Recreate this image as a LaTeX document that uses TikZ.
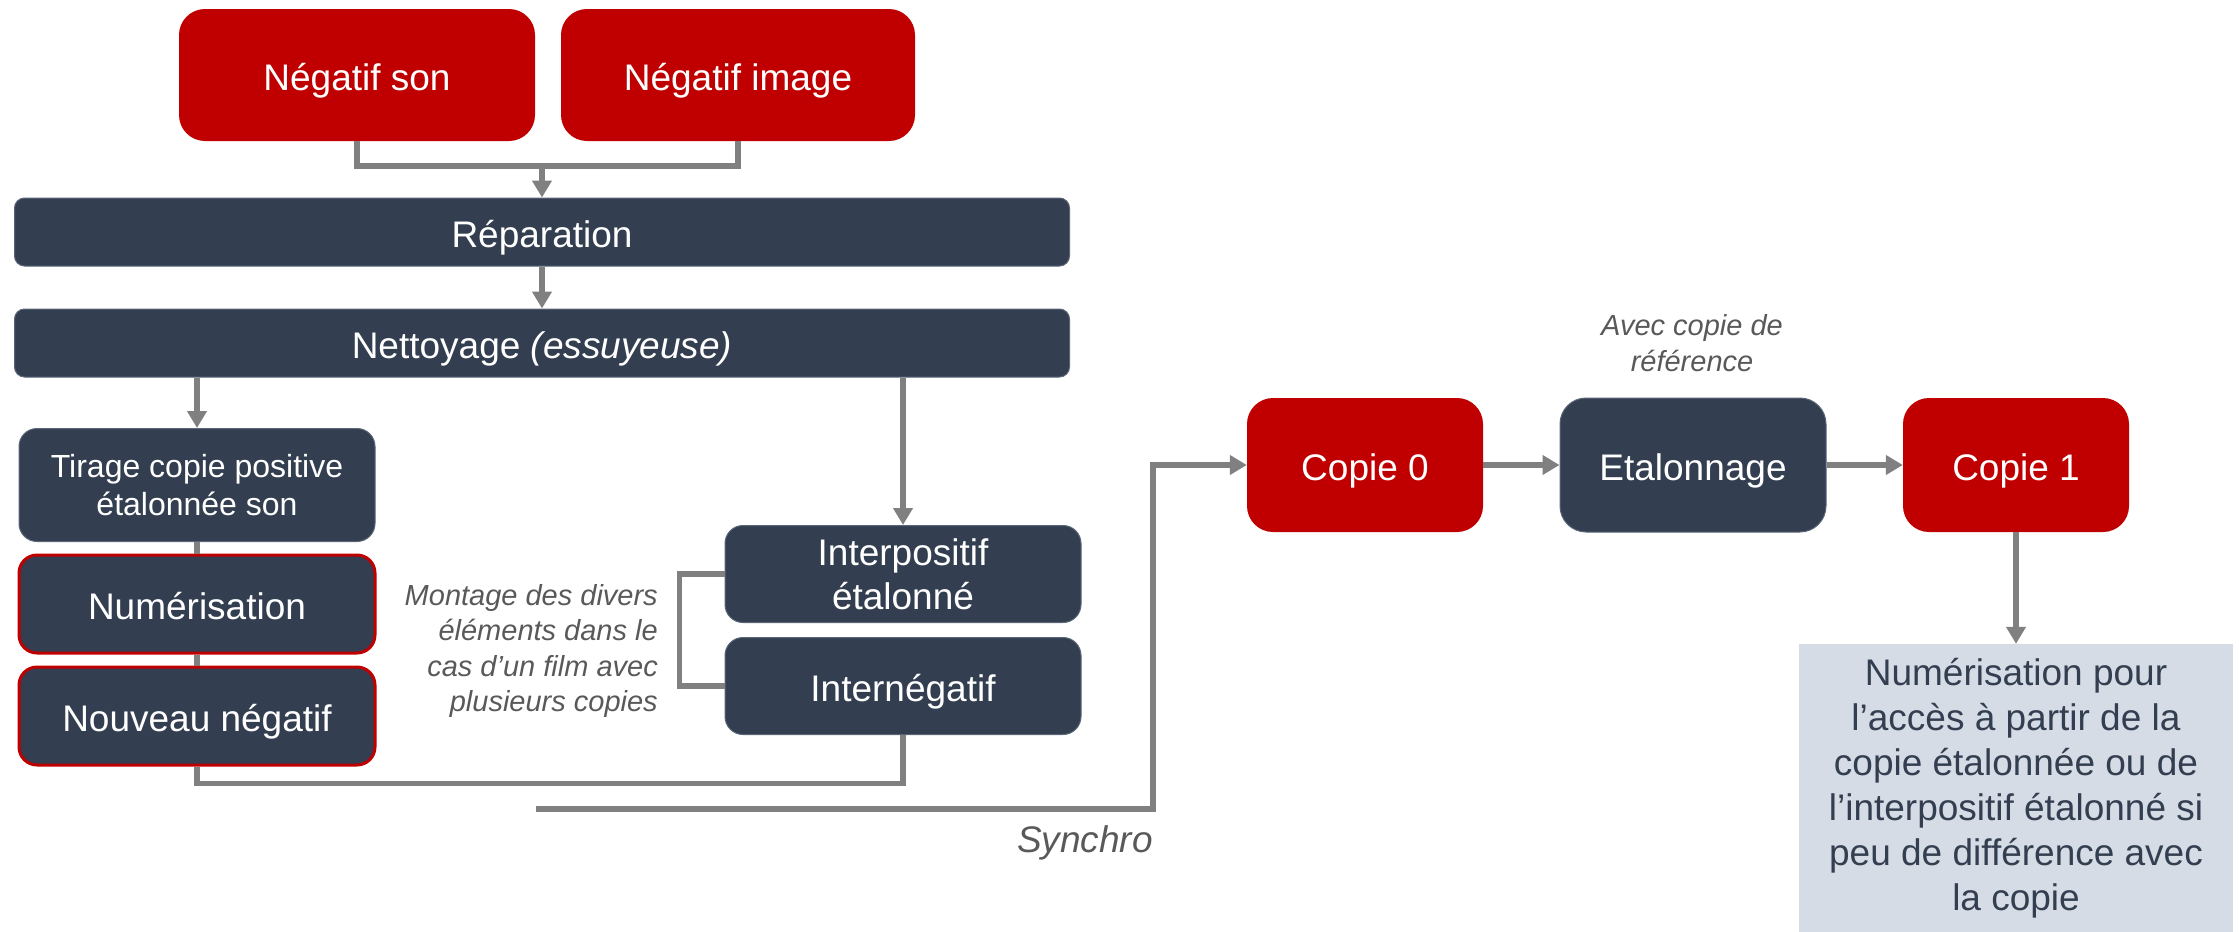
\documentclass[tikz,border=0pt]{standalone}
\usepackage{fontspec}
\setmainfont{Liberation Sans}
\usetikzlibrary{arrows.meta}
\definecolor{boxred}{HTML}{C00000}
\definecolor{boxdark}{HTML}{333F50}
\definecolor{boxedge}{HTML}{5B6678}
\definecolor{boxpale}{HTML}{D6DCE5}
\definecolor{linegray}{HTML}{808080}
\definecolor{notegray}{HTML}{595959}

\begin{document}
\begin{tikzpicture}[x=1pt,y=-1pt,
  box/.style={inner sep=0pt, align=center, text=white, font=\fontsize{37}{44}\selectfont},
  oneline/.style={text height=36pt, text depth=6pt},
  redbox/.style={box, oneline, fill=boxred, rounded corners=26pt},
  darkbox/.style={box, fill=boxdark, draw=boxedge, line width=1pt, rounded corners=18pt},
  bar/.style={darkbox, oneline, rounded corners=10pt, minimum width=1055pt, minimum height=68pt},
  sidebox/.style={darkbox, minimum width=356pt},
  redrim/.style={sidebox, oneline, draw=boxred, line width=3pt, minimum height=98pt},
  pale/.style={box, fill=boxpale, text=boxdark, font=\fontsize{37}{45}\selectfont},
  conn/.style={draw=linegray, line width=5.5pt},
  arr/.style={conn, -{Triangle[length=17pt,width=19pt]}},
  note/.style={inner sep=0pt, text=notegray, font=\fontsize{29}{35.5}\selectfont\itshape}
]
\useasboundingbox (0,0) rectangle (2239,932);

% original negatives
\node[redbox, minimum width=356pt, minimum height=132pt] (nson) at (357,75) {Négatif son};
\node[redbox, minimum width=354pt, minimum height=132pt] (nimg) at (738,75) {Négatif image};

% preparation steps
\node[bar] (rep) at (542,232) {Réparation};
\node[bar] (net) at (542,343) {Nettoyage \textit{(essuyeuse)}};

% sound branch
\node[sidebox, minimum height=113pt, font=\fontsize{32}{38.6}\selectfont] (tir) at (197,485)
  {Tirage copie positive\\étalonnée son};
\node[redrim] (num) at (197,604) {Numérisation};
\node[redrim] (nouv) at (197,716) {Nouveau négatif};

% image branch
\node[sidebox, minimum height=97pt] (interp) at (903,574) {Interpositif\\étalonné};
\node[sidebox, oneline, minimum height=97pt] (ineg) at (903,686) {Internégatif};

% prints
\node[redbox, minimum width=236pt, minimum height=134pt] (c0) at (1365,465) {Copie 0};
\node[darkbox, oneline, minimum width=266pt, minimum height=134pt, rounded corners=26pt] (etal) at (1693,465) {Etalonnage};
\node[redbox, minimum width=226pt, minimum height=134pt] (c1) at (2016,465) {Copie 1};
\node[pale, minimum width=434pt, minimum height=288pt] (acc) at (2016,788)
  {Numérisation pour\\l’accès à partir de la\\copie étalonnée ou de\\l’interpositif étalonné si\\peu de différence avec\\la copie};

% notes
\node[note, align=right, anchor=east] (mont) at (658,651)
  {Montage des divers\\éléments dans le\\cas d’un film avec\\plusieurs copies};
\node[note, align=center] (avec) at (1692,343) {Avec copie de\\référence};
\node[note, font=\fontsize{37}{44}\selectfont\itshape] (syn) at (1085,843) {Synchro};

% connectors
\coordinate (jn) at (542,166);
\draw[conn] (nson.south) |- (jn) -| (nimg.south);
\draw[arr] (jn) -- (rep.north);
\draw[arr] (rep) -- (net);
\draw[arr] (net.south -| tir.north) -- (tir.north);
\draw[arr] (net.south -| interp.north) -- (interp.north);
\draw[conn] (tir) -- (num);
\draw[conn] (num) -- (nouv);
\draw[conn] (nouv.south) -- ++(0,17) -| (ineg.south);
\draw[conn] (interp.west) -- ++(-45,0) |- (ineg.west);
\coordinate (sy) at (536,809);
\coordinate (bend) at (1153,809);
\draw[arr] (sy) -- (bend) |- (c0.west);
\draw[arr] (c0) -- (etal);
\draw[arr] (etal) -- (c1);
\draw[arr] (c1) -- (acc);
\end{tikzpicture}
\end{document}
